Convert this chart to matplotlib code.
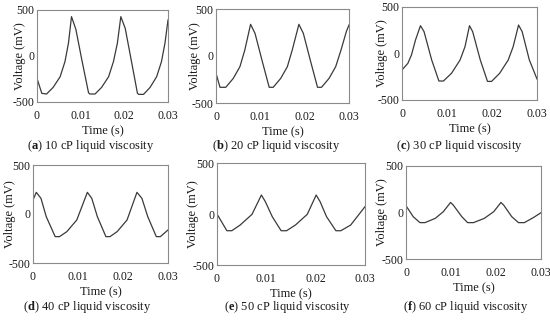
import matplotlib
matplotlib.use('Agg')
import matplotlib.pyplot as plt

plt.rcParams['font.family'] = ['Liberation Serif', 'DejaVu Serif']
plt.rcParams['mathtext.fontset'] = 'custom'
plt.rcParams['mathtext.rm'] = 'Liberation Serif'
plt.rcParams['mathtext.bf'] = 'Liberation Serif:bold'
plt.rcParams['axes.unicode_minus'] = False

# time in ms, voltage in mV
t_a = [0, 1.1, 2.2, 3.7, 5.3, 6.4, 7.2, 7.9, 8.9, 10.3, 11.8, 12.1, 13.3, 14.8, 16.4, 17.5,
       18.4, 19.2, 20.2, 21.6, 23.0, 23.3, 24.4, 25.9, 27.4, 28.5, 29.3, 30.0]
v_a = [-243, -406, -413, -341, -225, -62, 138, 428, 290, -50, -399, -413, -413, -341, -225, -62,
       138, 428, 301, -50, -405, -417, -417, -341, -225, -62, 138, 391]

t_b = [0, 0.9, 2.2, 3.9, 5.4, 6.5, 7.8, 8.8, 10.4, 12.0, 12.9, 14.6, 16.1, 17.2, 18.7, 19.7,
       21.3, 22.9, 23.8, 25.5, 27.0, 28.2, 29.4, 30.0]
v_b = [-184, -333, -333, -238, -113, 64, 337, 241, -50, -333, -333, -238, -113, 64, 337, 241,
       -50, -333, -333, -238, -113, 64, 260, 330]

t_c = [0, 1.3, 2.1, 3.0, 4.1, 4.9, 6.6, 8.2, 9.2, 11.0, 12.9, 14.0, 15.0, 15.7, 17.4, 19.0,
       19.9, 21.7, 23.6, 24.7, 25.9, 26.7, 28.3, 30.0]
v_c = [-177, -106, -16, 145, 299, 235, -70, -296, -296, -213, -70, 73, 299, 235, -70, -300,
       -300, -213, -70, 73, 306, 235, -70, -274]

t_d = [0, 0.73, 1.77, 2.94, 4.93, 5.89, 7.52, 9.73, 12.08, 13.06, 14.3, 16.2, 17.1, 18.7,
       20.9, 23.1, 24.2, 25.5, 27.4, 28.3, 30.0]
v_d = [143, 221, 160, -27, -231, -231, -180, -61, 221, 160, -27, -231, -231, -180,
       -61, 221, 160, -27, -231, -231, -163]

t_e = [0, 2.0, 3.0, 4.7, 7.1, 9.0, 9.8, 11.2, 13.0, 14.1, 15.9, 18.3, 20.1, 20.9, 22.2,
       24.1, 25.1, 27.1, 30.0]
v_e = [0, -164, -164, -108, -3, 186, 121, -26, -164, -164, -108, -3, 186, 121, -26,
       -164, -164, -108, 72]

t_f = [0, 1.6, 3.1, 4.2, 6.5, 8.3, 9.9, 10.5, 12.4, 13.7, 15.0, 17.4, 19.5, 21.1, 21.7,
       23.5, 25.0, 26.3, 28.4, 30.0]
v_f = [73, -45, -109, -109, -63, 9, 108, 80, -45, -109, -109, -63, 9, 108, 80,
       -45, -109, -109, -52, -2]

letters = ['a', 'b', 'c', 'd', 'e', 'f']
viscosity = [10, 20, 30, 40, 50, 60]
times = [t_a, t_b, t_c, t_d, t_e, t_f]
volts = [v_a, v_b, v_c, v_d, v_e, v_f]

W, H = 550, 322
# axes boxes in pixels: left, right, top, bottom
boxes = [(37, 168, 10, 102), (216, 349, 9, 103), (402, 537, 7, 100),
         (33, 168, 165, 263), (217, 365, 163, 265), (406, 541, 166, 259)]
ylab_off = [-11, -15, -14, -17, -18, -18]
caption_pos = [(91, 146), (276, 146), (459, 146), (87, 307), (287, 307), (466, 307)]

fig = plt.figure(figsize=(W / 100, H / 100), dpi=100)
txt = '#1a1a1a'

for i in range(6):
    l, r, t, b = boxes[i]
    ax = fig.add_axes([l / W, 1 - b / H, (r - l) / W, (b - t) / H])
    ax.plot([x / 1000 for x in times[i]], volts[i], color='#3a3a3a', lw=0.9)
    ax.set_xlim(0, 0.03)
    ax.set_ylim(-500, 500)
    ax.set_xticks([0, 0.01, 0.02, 0.03])
    ax.set_xticklabels(['0', '0.01', '0.02', '0.03'])
    ax.set_yticks([-500, 0, 500])
    ax.set_yticklabels(['-500', '0', '500'])
    ax.tick_params(length=0, labelsize=8.5, colors=txt, pad=6)
    ax.tick_params(axis='y', pad=2)
    for s in ax.spines.values():
        s.set_color('#8a8a8a')
        s.set_linewidth(0.8)
    ax.set_xlabel('Time (s)', fontsize=9, color=txt, labelpad=2)
    ax.set_ylabel('Voltage (mV)', fontsize=9, color=txt)
    ax.yaxis.set_label_coords(ylab_off[i] / (r - l), 0.5)
    cx, cy = caption_pos[i]
    fig.text(cx / W, 1 - cy / H,
             '($\\mathbf{%s}$) %d cP liquid viscosity' % (letters[i], viscosity[i]),
             ha='center', va='center', fontsize=9, color=txt)

plt.savefig('out.png', dpi=100)
